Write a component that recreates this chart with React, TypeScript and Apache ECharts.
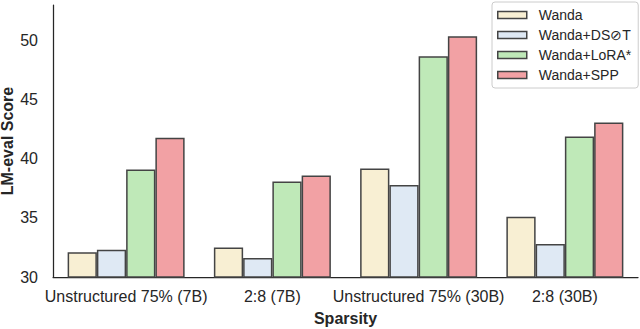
import React, { useEffect, useRef } from "react";
import * as echarts from "echarts";

const categories = ["Unstructured 75% (7B)", "2:8 (7B)", "Unstructured 75% (30B)", "2:8 (30B)"];
const seriesNames = ["Wanda", "Wanda+DS⊘T", "Wanda+LoRA*", "Wanda+SPP"];
const wanda = [32.1, 32.5, 39.2, 35.1];
const wandaDsot = [32.3, 31.6, 37.8, 32.8];
const wandaLora = [39.1, 38.1, 48.7, 41.9];
const wandaSpp = [41.8, 38.6, 50.4, 43.1];
const seriesColors = ["#f8efd3", "#dfe9f4", "#bfe9b8", "#f2a1a4"];
const yMin = 30;
const yMax = 53.05;
const yInterval = 5;

const FONT = "'Liberation Sans', Arial, Helvetica, sans-serif";

export default function App() {
  const ref = useRef<HTMLDivElement>(null);
  useEffect(() => {
    if (!ref.current) return;
    const chart = echarts.init(ref.current, null, { renderer: "svg" });
    const values = [wanda, wandaDsot, wandaLora, wandaSpp];
    chart.setOption({
      animation: false,
      textStyle: { fontFamily: FONT, color: "#262626" },
      grid: { left: 53, right: 2, top: 5, bottom: 52, containLabel: false, outerBoundsMode: "none" },
      legend: {
        orient: "vertical",
        left: 492,
        top: 2,
        align: "left",
        padding: [5, 7, 5, 5],
        itemGap: 4,
        itemWidth: 29,
        itemHeight: 7,
        icon: "rect",
        borderColor: "#cccccc",
        borderWidth: 1,
        borderRadius: 3,
        backgroundColor: "#ffffff",
        itemStyle: { borderColor: "#444444", borderWidth: 1.5 },
        textStyle: {
          fontFamily: FONT,
          fontSize: 14,
          color: "#262626",
          padding: [0, 0, 0, 7],
          lineHeight: 16,
        },
        data: seriesNames,
      },
      xAxis: {
        type: "category",
        data: categories,
        name: "Sparsity",
        nameLocation: "middle",
        nameGap: 33,
        nameMoveOverlap: false,
        nameTextStyle: { fontFamily: FONT, fontSize: 16, fontWeight: "bold", color: "#262626" },
        axisLine: { lineStyle: { color: "#262626", width: 1.25 } },
        axisTick: { show: false },
        axisLabel: { fontFamily: FONT, fontSize: 16, color: "#262626", margin: 11, interval: 0 },
      },
      yAxis: {
        type: "value",
        min: yMin,
        max: yMax,
        interval: yInterval,
        name: "LM-eval Score",
        nameLocation: "middle",
        nameGap: 38,
        nameMoveOverlap: false,
        nameTextStyle: { fontFamily: FONT, fontSize: 16, fontWeight: "bold", color: "#262626" },
        axisLine: { show: true, lineStyle: { color: "#262626", width: 1.25 } },
        axisTick: { show: false },
        splitLine: { show: false },
        axisLabel: { fontFamily: FONT, fontSize: 16, color: "#262626", margin: 15, showMaxLabel: false },
      },
      series: seriesNames.map((name, i) => ({
        name,
        type: "bar",
        data: values[i],
        barGap: "0%",
        barCategoryGap: "20%",
        itemStyle: { color: seriesColors[i], borderColor: "#444444", borderWidth: 1.5 },
      })),
    });
    return () => chart.dispose();
  }, []);
  return (
    <div
      ref={ref}
      style={{ position: "fixed", left: 0, top: 0, width: 640, height: 329, background: "#ffffff" }}
    />
  );
}
